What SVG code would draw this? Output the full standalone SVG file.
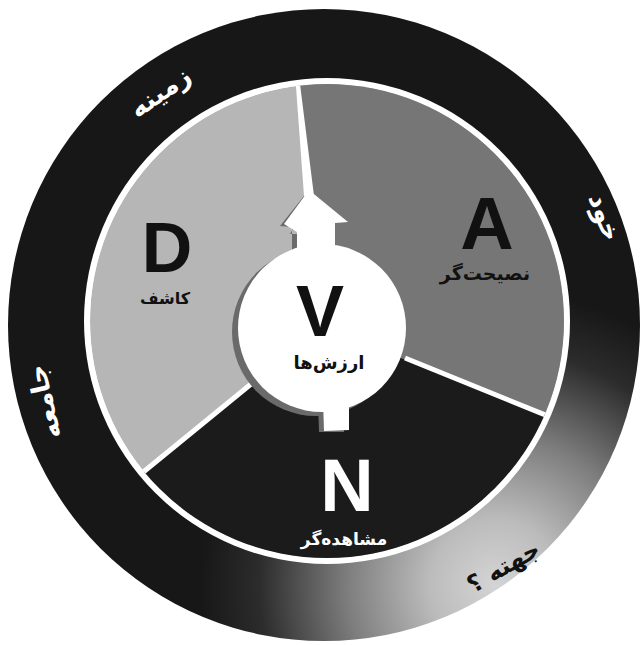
<svg xmlns="http://www.w3.org/2000/svg" width="641" height="645" viewBox="0 0 641 645">
<style>
.big{font-family:"Liberation Sans",Arial,sans-serif;font-weight:bold;text-anchor:middle}
.fa{font-family:"DejaVu Sans","Noto Sans",sans-serif;font-weight:bold;text-anchor:middle}
.ring{font-family:"DejaVu Sans","Noto Sans",sans-serif;font-weight:bold;text-anchor:middle;fill:#ffffff}
</style>
<defs>
<radialGradient id="ringGrad" gradientUnits="userSpaceOnUse" cx="495" cy="585" r="295">
<stop offset="0" stop-color="#d4d4d4"/>
<stop offset="0.22" stop-color="#bcbcbc"/>
<stop offset="0.5" stop-color="#7e7e7e"/>
<stop offset="0.8" stop-color="#2c2c2c"/>
<stop offset="1" stop-color="#171717"/>
</radialGradient>
<clipPath id="pieClip"><circle cx="327" cy="321" r="237"/></clipPath>
</defs>
<rect width="641" height="645" fill="#ffffff"/>
<g id="outer-ring">
<circle cx="324" cy="325" r="316" fill="url(#ringGrad)"/>
<circle cx="327" cy="321" r="243" fill="#ffffff"/>
</g>
<g id="pie" clip-path="url(#pieClip)">
<g id="sector-D"><circle cx="327" cy="321" r="237" fill="#b6b6b6"/></g>
<g id="sector-A"><polygon points="323,327 294,60 650,60 650,457" fill="#767676"/></g>
<g id="sector-N"><polygon points="323,327 650,457 650,650 0,650 0,588" fill="#1b1b1b"/></g>
<g id="connectors">
<polygon points="295.5,80 299.5,80 314,196 304,196" fill="#ffffff"/>
<line x1="405" y1="358" x2="570" y2="425" stroke="#ffffff" stroke-width="5"/>
<line x1="256" y1="380" x2="125" y2="487" stroke="#ffffff" stroke-width="5"/>
</g>
</g>
<g id="node-V">
<polygon points="304,196 280,226 292,227 292,252 302,252 302,234 290,234 309,200" fill="#6a6a6a"/>
<circle cx="316" cy="332" r="84" fill="#6a6a6a"/>
<polygon points="318,402 343,402 344,432 319,432" fill="#6a6a6a"/>
<polygon points="309,190 348,222 335,223 335,252 297,252 297,232 284,224" fill="#ffffff"/>
<polygon points="323,400 349,400 349,430 324,431" fill="#ffffff"/>
<circle cx="322" cy="328" r="84" fill="#ffffff"/>
<text class="big" x="320" y="336" font-size="72" fill="#111111">V</text>
<text class="fa" x="329" y="369" font-size="18" fill="#111111">ارزش‌ها</text>
</g>
<g id="node-D">
<text class="big" x="167" y="272" font-size="70" fill="#111111">D</text>
<text class="fa" x="165" y="304" font-size="16" fill="#111111">کاشف</text>
</g>
<g id="node-A">
<text class="big" x="487" y="249" font-size="74" fill="#111111">A</text>
<text class="fa" x="485" y="280" font-size="19" fill="#111111">نصیحت‌گر</text>
</g>
<g id="node-N">
<text class="big" x="347" y="511" font-size="74" fill="#ffffff">N</text>
<text class="fa" x="344" y="545" font-size="17" fill="#ffffff">مشاهده‌گر</text>
</g>
<g id="ring-labels">
<text class="ring" font-size="26" transform="translate(160,92) rotate(-35)" y="9">زمینه</text>
<text class="ring" font-size="26" transform="translate(605,217) rotate(70)" y="9">خود</text>
<text class="ring" font-size="26" transform="translate(44,402) rotate(-103)" y="9">جامعه</text>
<text class="ring" font-size="24" transform="translate(503,566) rotate(-30)" y="9" style="fill:#111111">جهته ؟</text>
</g>
</svg>
